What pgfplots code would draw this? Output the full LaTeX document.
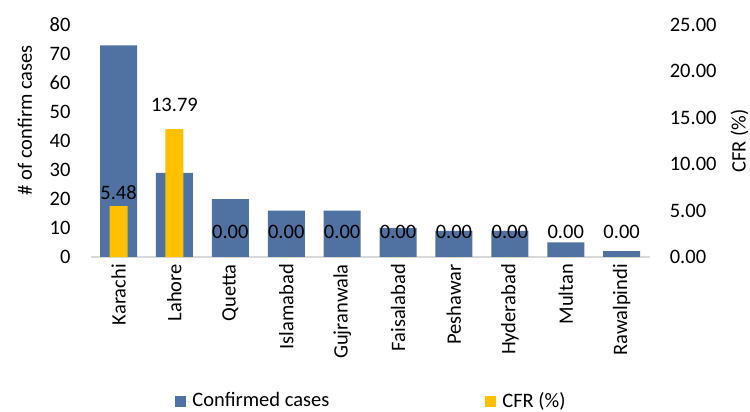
\documentclass[border=0pt]{standalone}
\usepackage{pgfplots}
\pgfplotsset{compat=1.18}
\usepackage{fontspec}
\setmainfont{Carlito}
\definecolor{cblue}{RGB}{79,114,163}
\definecolor{cyel}{RGB}{255,192,0}
\definecolor{axgray}{RGB}{217,217,217}
\begin{document}
\fontsize{20.5}{24}\selectfont
\begin{tikzpicture}
\useasboundingbox (-90.6pt,-155pt) rectangle (659.4pt,257pt);
\begin{axis}[
  at={(0pt,0pt)}, anchor=south west,
  scale only axis, width=559pt, height=232pt,
  xmin=-0.5, xmax=9.5, ymin=0, ymax=80,
  ytick={0,10,...,80},
  xtick={0,...,9},
  xticklabels={Karachi,Lahore,Quetta,Islamabad,Gujranwala,Faisalabad,Peshawar,Hyderabad,Multan,Rawalpindi},
  axis x line*=bottom, axis y line*=left,
  x axis line style={draw=axgray, line width=1.2pt, -},
  y axis line style={draw=none},
  major tick length=0pt,
  /pgf/number format/assume math mode=true,
  yticklabel style={anchor=east, inner sep=0pt},
  yticklabel shift=20pt,
  xticklabel style={rotate=90, anchor=east, inner sep=0pt},
  xticklabel shift=7pt,
  ylabel={\# of confirm cases},
  ylabel style={at={(axis description cs:-0.1174,0.59)}, anchor=center},
]
\addplot[ybar, bar width=37pt, fill=cblue, draw=none] coordinates {
 (0,73) (1,29) (2,20) (3,16) (4,16) (5,10) (6,9) (7,9) (8,5) (9,2)};
\end{axis}
\begin{axis}[
  at={(0pt,0pt)}, anchor=south west,
  scale only axis, width=559pt, height=232pt,
  xmin=-0.5, xmax=9.5, ymin=0, ymax=25,
  ytick={0,5,...,25},
  axis y line*=right, axis x line=none,
  y axis line style={draw=none},
  major tick length=0pt,
  /pgf/number format/assume math mode=true,
  yticklabel style={anchor=west, inner sep=0pt, /pgf/number format/.cd, fixed, fixed zerofill, precision=2},
  yticklabel shift=20pt,
  ylabel={CFR (\%)},
  ylabel style={at={(axis description cs:1.161,0.5)}, anchor=center, rotate=0},
  legend columns=2,
  legend style={at={(0.5025,-0.621)}, anchor=center, draw=none, fill=none,
    /tikz/every even column/.append style={column sep=154pt}},
  legend cell align=left,
]
\addlegendimage{fill=cblue, draw=none, legend image code/.code={\fill[cblue] (0pt,-5.5pt) rectangle (11pt,5.5pt); \path (0pt,0pt) -- (15pt,0pt);}}
\addlegendentry{Confirmed cases}
\addplot[ybar, bar width=18pt, fill=cyel, draw=none,
  legend image code/.code={\fill[cyel] (0pt,-5.5pt) rectangle (11pt,5.5pt); \path (0pt,0pt) -- (15pt,0pt);}] coordinates {
 (0,5.48) (1,13.79) (2,0) (3,0) (4,0) (5,0) (6,0) (7,0) (8,0) (9,0)};
\addlegendentry{CFR (\%)}
\addplot[draw=none, forget plot, nodes near coords, point meta=explicit symbolic,
  every node near coord/.append style={anchor=center, inner sep=0pt, text=black}] coordinates {
 (0,6.9)[5.48] (1,16.38)[13.79] (2,2.69)[0.00] (3,2.69)[0.00] (4,2.69)[0.00] (5,2.69)[0.00]
 (6,2.69)[0.00] (7,2.69)[0.00] (8,2.69)[0.00] (9,2.69)[0.00]};
\end{axis}
\end{tikzpicture}
\end{document}
